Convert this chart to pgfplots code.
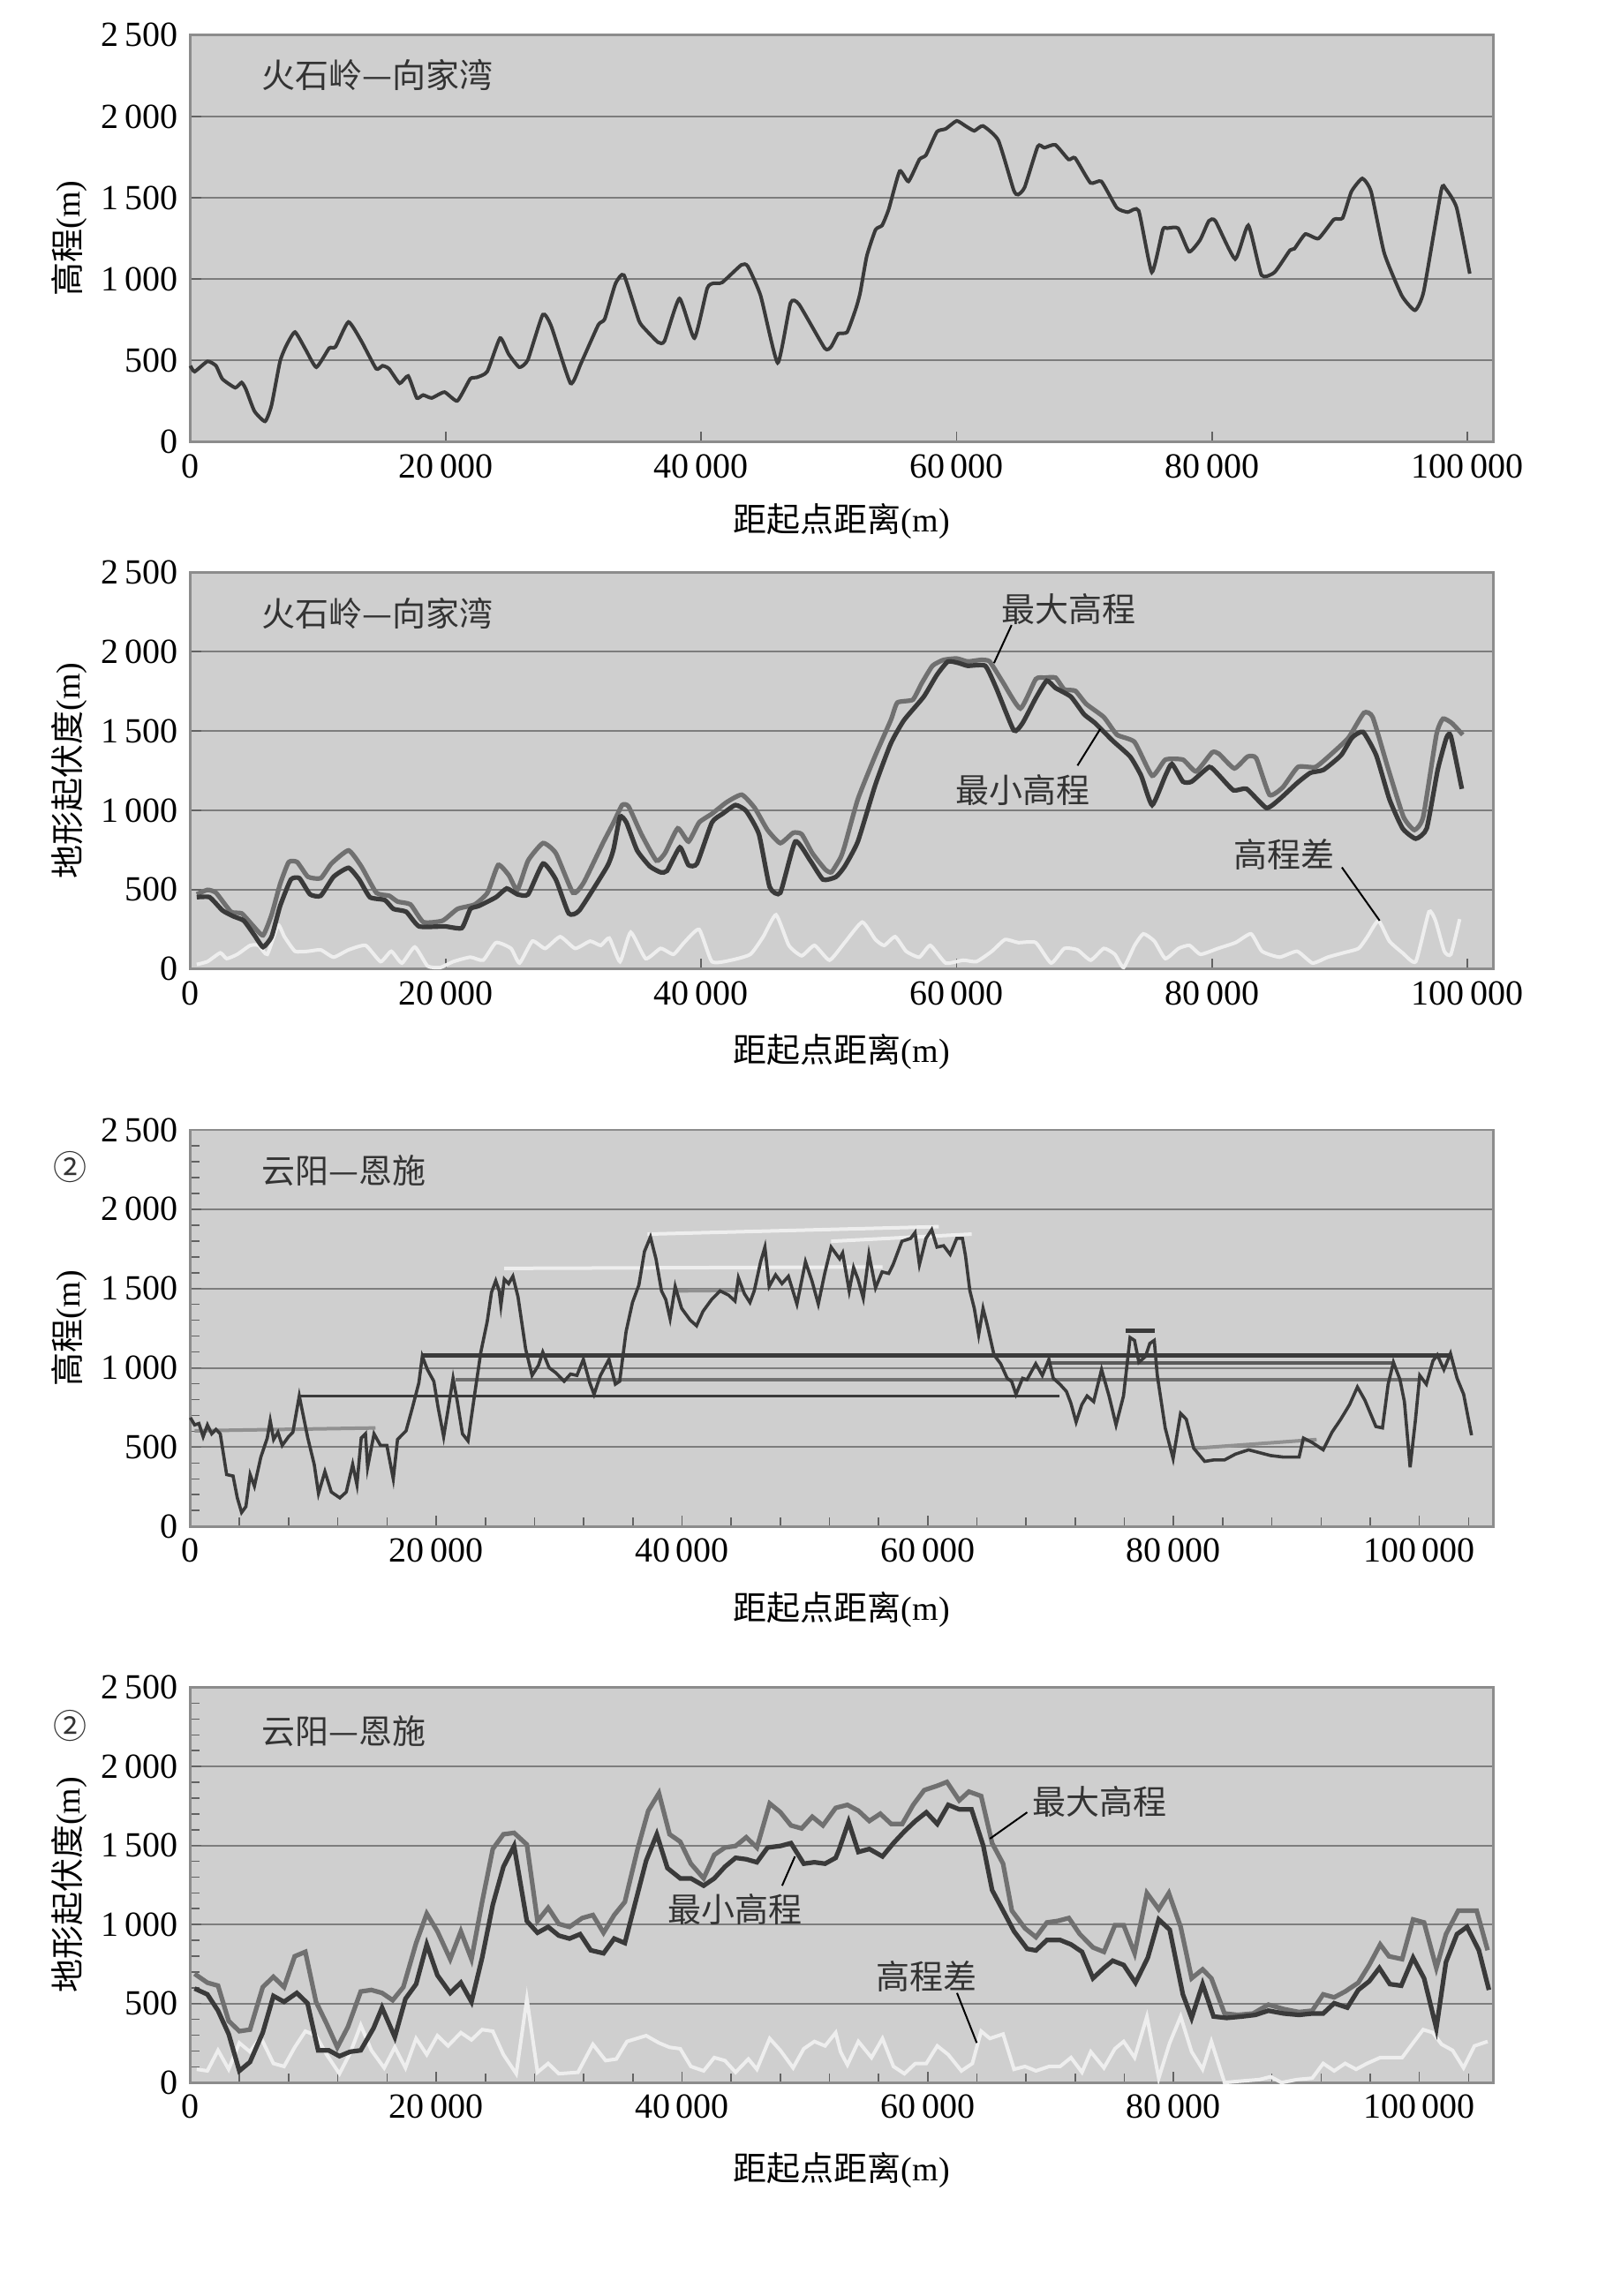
\documentclass[border=0pt]{standalone}
\usepackage{fontspec}
\setmainfont{Liberation Serif}
\newfontfamily\cjk{Noto Sans CJK SC}
\usepackage{pgfplots}
\pgfplotsset{compat=1.18}

\definecolor{bggray}{RGB}{207,207,207}
\definecolor{gridgray}{RGB}{125,125,125}
\definecolor{framegray}{RGB}{140,140,140}
\definecolor{cdark}{RGB}{58,58,58}
\definecolor{cmid}{RGB}{112,112,112}
\definecolor{cgray}{RGB}{145,145,145}
\definecolor{clight}{RGB}{238,238,238}

\tikzset{lbl/.style={font=\fontsize{9.5}{11}\selectfont\cjk, text=black!80}}

\pgfplotsset{
  panel/.style={
    scale only axis, width=368.9pt, anchor=north west,
    xmin=0, ymin=0, ymax=2500,
    ytick={0,500,...,2500},
    xtick={0,20000,...,100000},
    scaled ticks=false,
    axis background/.style={fill=bggray},
    ymajorgrids, major grid style={gridgray, line width=0.5pt},
    axis line style={framegray, line width=0.7pt},
    tick align=inside, tick pos=left,
    major tick length=3pt, minor tick length=2.5pt,
    tick style={framegray!70!black, line width=0.4pt},
    ylabel style={at={(axis description cs:-0.093,0.5)}, anchor=center, font=\fontsize{9.5}{11}\selectfont},
    xlabel style={anchor=center, font=\fontsize{9.5}{11}\selectfont},
    xlabel={{\cjk 距起点距离}(m)},
    ticklabel style={font=\fontsize{10}{12}\selectfont},
    /pgf/number format/fixed,
    /pgf/number format/precision=0,
    /pgf/number format/1000 sep={\,},
    /pgf/number format/assume math mode=true,
    clip=false,
  },
  wide/.style={
    xmax=106000,
    minor xtick={0,4000,...,104000},
    minor ytick={0,100,...,2500},
  },
}

\begin{document}
\begin{tikzpicture}
\path[fill=white] (0,0) rectangle (452.25pt,-650.25pt);
\useasboundingbox (0,0) rectangle (452.25pt,-650.25pt);

% ---------- panel 1 ----------
\begin{axis}[panel, at={(53.9pt,-9.95pt)}, height=115.2pt, xmax=102000,
  xlabel style={at={(axis description cs:0.5,-0.194)}},
  ylabel={{\cjk 高程}(m)}]
\addplot[cdark, line width=1pt, smooth, tension=0.3] coordinates {
(0,468) (334,432) (1338,495) (2007,468) (2508,387) (3512,333) (4013,365) (4348,324)
(5017,189) (5853,126) (6355,225) (7023,495) (7525,594) (8194,675) (9030,567) (9866,459)
(10870,576) (11371,585) (12375,737) (13378,621) (14548,450) (15050,468) (15552,450)
(16388,360) (17057,405) (17726,270) (18227,288) (18896,270) (19900,306) (20903,252)
(21906,387) (22408,396) (23244,432) (24247,638) (24916,540) (25753,459) (26421,504)
(27592,782) (28261,710) (29766,360) (30602,486) (31940,719) (32441,755) (33278,971)
(33946,1025) (35117,746) (35619,692) (36622,612) (37124,620) (38294,881) (39465,638)
(40468,944) (40970,975) (41639,980) (43144,1088) (43645,1079) (44649,899) (45987,486)
(46990,854) (47659,845) (49666,576) (50167,585) (50730,665) (51416,674) (52103,818)
(52446,917) (52961,1142) (53648,1304) (54163,1331) (54678,1430) (55536,1664) (56223,1601)
(57082,1736) (57597,1763) (58455,1906) (59142,1924) (60000,1973) (60687,1942) (61373,1912)
(62060,1942) (63262,1853) (64464,1547) (64807,1520) (65322,1565) (66352,1817) (66867,1808)
(67725,1826) (68755,1736) (69270,1745) (70472,1592) (71330,1601) (72532,1439) (73391,1412)
(74249,1421) (75279,1043) (76137,1304) (76481,1313) (77339,1313) (78197,1169) (79056,1241)
(79742,1358) (80258,1358) (81803,1124) (82833,1331) (83863,1025) (84893,1043) (86094,1178)
(86438,1187) (87296,1277) (88326,1250) (89528,1367) (90215,1376) (90901,1538) (91760,1619)
(92446,1538) (93476,1160) (94850,899) (95880,809) (96567,926) (97940,1547) (98283,1556)
(99142,1439) (100172,1034)
};
\node[lbl, anchor=west] at (rel axis cs:0.045,0.903) {火石岭—向家湾};
\end{axis}

% ---------- panel 2 ----------
\begin{axis}[panel, at={(53.9pt,-162.1pt)}, height=112.3pt, xmax=102000,
  xlabel style={at={(axis description cs:0.5,-0.21)}},
  ylabel={{\cjk 地形起伏度}(m)}]
\addplot[clight, line width=1pt, smooth, tension=0.3] coordinates {
(502,28) (1339,46) (2343,101) (2845,65) (3682,92) (4686,148) (5356,148) (6025,92)
(6862,277) (7364,203) (8201,111) (9205,111) (10209,120) (11213,74) (12385,120) (13724,148)
(14895,46) (15732,111) (16569,37) (17573,138) (18577,18) (19581,9) (20586,46) (21925,74)
(22929,55) (23933,166) (25105,129) (25774,37) (26778,175) (27782,129) (28954,203)
(30126,129) (31297,175) (32134,148) (32803,194) (33640,46) (34477,231) (35649,65)
(36820,129) (37824,92) (38661,166) (39833,249) (40837,46) (42343,55) (43849,92)
(44854,203) (45858,341) (46862,148) (47866,83) (48870,148) (50042,55) (51230,166)
(52605,295) (53637,185) (54325,148) (55185,203) (56045,111) (57077,74) (57936,148)
(59140,37) (60516,55) (61548,46) (62752,111) (63784,185) (64815,166) (66191,166)
(67395,37) (68427,129) (69458,120) (70490,55) (71522,129) (72382,92) (73070,9)
(73929,148) (74617,221) (75477,175) (76337,65) (77369,129) (78229,148) (79089,92)
(80464,129) (81840,166) (83044,221) (83904,111) (85279,74) (86655,111) (87859,37)
(89062,74) (90266,101) (91470,129) (92158,203) (93017,304) (93878,175) (94910,101)
(95942,46) (96974,360) (97490,304) (98178,111) (98693,92) (99381,314)
};
\addplot[cmid, line width=1.3pt, smooth, tension=0.3] coordinates {
(502,470) (1339,498) (2008,480) (3180,360) (4017,350) (4854,277) (5690,212) (6360,341)
(7029,535) (7699,673) (8368,673) (9205,581) (10209,572) (11046,664) (12385,747)
(13389,646) (14561,480) (15565,461) (16234,424) (17238,406) (18243,295) (19749,304)
(20920,378) (22259,406) (23263,480) (24100,655) (24937,590) (25607,498) (26444,683)
(27615,793) (28619,729) (29958,480) (30795,544) (32301,793) (33138,923) (33808,1033)
(34310,1024) (35314,849) (36485,683) (37155,729) (38159,886) (39000,803) (39833,923)
(40837,978) (42008,1052) (43180,1098) (44184,1015) (45188,876) (46192,793) (47197,858)
(47866,849) (48703,729) (49707,627) (50200,610) (50900,700) (51230,775) (52261,1070)
(53637,1347) (54841,1568) (55357,1679) (56561,1697) (57249,1799) (58108,1911)
(58968,1948) (60000,1957) (60860,1938) (61892,1948) (62580,1938) (63611,1808)
(64987,1642) (66191,1827) (66879,1836) (67739,1836) (68427,1762) (69287,1753)
(70146,1670) (71522,1587) (72554,1476) (73929,1430) (75305,1218) (76337,1319)
(77713,1319) (78745,1245) (80000,1365) (80533,1356) (81737,1264) (82769,1338)
(83457,1328) (84489,1098) (85520,1144) (86724,1273) (88100,1273) (89475,1365)
(90679,1458) (91883,1614) (92571,1587) (93775,1264) (94979,959) (95839,876) (96527,959)
(97559,1476) (98074,1577) (98762,1550) (99622,1476)
};
\addplot[cdark, line width=1.3pt, smooth, tension=0.3] coordinates {
(502,452) (1506,452) (2510,369) (3347,332) (4184,304) (5021,212) (5690,138) (6360,203)
(7029,397) (7866,563) (8536,572) (9372,470) (10209,461) (11213,581) (12385,637)
(13222,563) (14059,452) (15230,434) (15900,378) (16904,360) (17908,268) (19916,268)
(21255,258) (21925,378) (22594,397) (23933,452) (24770,507) (25607,470) (26444,470)
(27615,664) (28619,563) (29623,350) (30460,369) (32636,646) (33138,756) (33640,959)
(34142,923) (34979,747) (35983,646) (36820,609) (37322,618) (38326,766) (38996,655)
(39665,664) (40837,923) (41674,978) (42678,1033) (43515,996) (44519,849) (45356,517)
(46192,480) (47364,803) (48536,683) (49540,563) (50544,580) (51230,646) (52261,803)
(53637,1162) (54841,1421) (55873,1568) (57420,1716) (58452,1854) (59312,1938)
(60172,1928) (60860,1911) (62236,1911) (63095,1771) (64471,1504) (65159,1550)
(66191,1707) (67051,1817) (67739,1771) (68943,1716) (69974,1605) (70834,1550)
(72209,1439) (73585,1338) (74445,1218) (75305,1033) (76337,1218) (76853,1292)
(77713,1181) (78401,1181) (79777,1273) (80464,1227) (81668,1126) (82700,1135)
(84247,1015) (85279,1070) (86655,1172) (87687,1236) (88719,1255) (90095,1347)
(90954,1458) (91814,1494) (92846,1347) (93878,1070) (94910,886) (95942,821) (96802,886)
(97662,1255) (98350,1458) (98693,1467) (99551,1135)
};
\node[lbl, anchor=west] at (rel axis cs:0.045,0.897) {火石岭—向家湾};
\node[lbl] at (axis cs:68770,2270) {最大高程};
\draw[black, line width=0.5pt] (axis cs:64299,2168) -- (axis cs:62923,1928);
\node[lbl] at (axis cs:65159,1125) {最小高程};
\draw[black, line width=0.5pt] (axis cs:69458,1282) -- (axis cs:71246,1513);
\node[lbl] at (axis cs:85620,720) {高程差};
\draw[black, line width=0.5pt] (axis cs:90160,640) -- (axis cs:93117,304);
\end{axis}

% ---------- panel 3 ----------
\begin{axis}[panel, wide, at={(53.9pt,-320pt)}, height=112.3pt,
  xlabel style={at={(axis description cs:0.5,-0.21)}},
  ylabel={{\cjk 高程}(m)}]
% reference levels
\addplot[cgray, line width=1pt] coordinates {(348,603) (15061,621)};
\addplot[cdark, line width=0.9pt] coordinates {(8967,823) (70748,823)};
\addplot[cmid, line width=0.9pt] coordinates {(21550,925) (100031,925)};
\addplot[cmid!80!black, line width=0.9pt] coordinates {(69677,1030) (98040,1030)};
\addplot[cdark, line width=1.3pt] coordinates {(18873,1080) (102531,1080)};
\addplot[clight, line width=1pt] coordinates {(25547,1627) (56322,1636)};
\addplot[clight, line width=1pt] coordinates {(37190,1843) (60893,1890)};
\addplot[clight, line width=1pt] coordinates {(52137,1798) (63571,1843)};
\addplot[cgray, line width=1pt] coordinates {(39450,1485) (44873,1489)};
\addplot[cgray, line width=1pt] coordinates {(81819,493) (91639,548)};
\addplot[cdark, line width=1.2pt] coordinates {(76105,1232) (78498,1232)};
% elevation profile
\addplot[cdark, line width=0.9pt] coordinates {
(0,686) (348,640) (696,649) (1042,566) (1390,640) (1738,584) (2086,612) (2433,584)
(2954,327) (3476,318) (3823,180) (4171,88) (4519,125) (4866,327) (5213,254) (5735,437)
(6257,557) (6500,667) (6778,548) (7126,594) (7473,511) (7994,566) (8342,594) (8863,823)
(9558,557) (10079,391) (10427,208) (10948,346) (11470,217) (12165,180) (12686,217)
(13208,391) (13556,263) (13903,557) (14250,584) (14424,373) (14946,584) (15467,511)
(15989,511) (16510,300) (16858,548) (17552,603) (18073,750) (18595,906) (18873,1072)
(19290,989) (19811,915) (20159,750) (20611,566) (20958,731) (21376,934) (21723,787)
(22141,584) (22592,539) (23113,823) (23635,1099) (24156,1292) (24503,1476) (24851,1549)
(25129,1485) (25269,1393) (25547,1559) (25895,1531) (26243,1577) (26660,1448)
(27285,1117) (27806,952) (28327,1016) (28675,1099) (29196,1000) (29718,970) (30413,915)
(30935,961) (31456,952) (31977,1053) (32498,906) (32846,833) (33367,952) (34062,1053)
(34583,897) (34931,915) (35452,1228) (35974,1412) (36496,1522) (36947,1733) (37434,1825)
(37886,1687) (38337,1485) (38685,1430) (39033,1310) (39450,1513) (39971,1375)
(40667,1301) (41188,1265) (41709,1356) (42405,1430) (43100,1485) (43795,1458)
(44316,1421) (44594,1568) (45081,1467) (45532,1412) (45880,1485) (46401,1669)
(46749,1761) (47097,1513) (47618,1586) (48139,1531) (48661,1577) (49356,1402)
(50051,1669) (50573,1549) (51094,1402) (51615,1595) (52137,1761) (52831,1687)
(53072,1724) (53608,1485) (53965,1632) (54322,1559) (54751,1439) (55215,1715)
(55750,1504) (56286,1605) (56822,1595) (57179,1651) (57893,1798) (58607,1816)
(58964,1853) (59322,1651) (59857,1816) (60321,1871) (60750,1761) (61286,1770)
(61821,1715) (62357,1816) (62821,1816) (63071,1706) (63428,1485) (63785,1375)
(64142,1209) (64499,1375) (64856,1265) (65392,1081) (65928,1026) (66463,934) (66820,915)
(67178,833) (67713,934) (68070,925) (68784,1026) (69320,952) (69855,1053) (70212,934)
(70748,897) (71284,851) (71641,778) (72070,658) (72534,768) (72963,823) (73498,787)
(74141,989) (74748,823) (75320,640) (75927,823) (76463,1191) (76820,1173) (77177,1035)
(77713,1072) (78070,1154) (78427,1173) (78676,952) (79319,621) (79962,428) (80569,713)
(81033,676) (81640,493) (82533,410) (83247,419) (84140,419) (85033,456) (86104,483)
(86997,465) (87890,447) (88961,437) (90211,437) (90568,557) (91282,529) (92175,483)
(92889,594) (93603,676) (94318,768) (94960,879) (95567,796) (96460,630) (96996,621)
(97460,897) (97889,1035) (98424,925) (98781,787) (99246,373) (99674,667) (100031,952)
(100567,897) (101103,1044) (101460,1081) (101995,989) (102531,1090) (103067,934)
(103602,833) (104245,575)
};
\node[lbl, anchor=west] at (rel axis cs:0.045,0.897) {云阳—恩施};
\node[lbl] at (rel axis cs:-0.092,0.907) {②};
\end{axis}

% ---------- panel 4 ----------
\begin{axis}[panel, wide, at={(53.9pt,-477.9pt)}, height=111.9pt,
  xlabel style={at={(axis description cs:0.5,-0.222)}},
  ylabel={{\cjk 地形起伏度}(m)}]
\addplot[clight, line width=1pt] coordinates {
(520,84) (1386,74) (2253,204) (3119,84) (3986,251) (4852,195) (5719,288) (6759,121)
(7625,102) (8492,223) (9358,325) (10225,297) (11091,177) (12131,56) (12998,186)
(13864,363) (14731,204) (15770,93) (16637,223) (17503,93) (18370,279) (19236,177)
(20103,297) (20969,232) (22009,316) (22875,270) (23742,335) (24608,325) (25475,177)
(26515,56) (27381,530) (28247,65) (29114,121) (29980,56) (31540,65) (32753,242)
(33793,139) (34659,149) (35526,260) (37086,297) (38126,251) (38992,223) (39859,214)
(40725,102) (41765,74) (42631,158) (43498,139) (44364,65) (45404,149) (46097,84)
(47137,279) (48004,204) (49044,93) (49910,214) (50777,260) (51643,232) (52510,316)
(52900,195) (53461,112) (54353,260) (55424,158) (56315,279) (57207,102) (58099,56)
(58991,121) (59883,121) (60775,232) (61667,177) (62737,74) (63630,121) (64343,325)
(65057,279) (66127,307) (67019,84) (67911,102) (68803,74) (69873,102) (70765,102)
(71657,158) (72549,65) (73263,195) (74334,93) (75226,214) (75939,260) (76831,158)
(77830,418) (78793,28) (79686,251) (80577,418) (81469,195) (82361,84) (83075,260)
(84145,0) (85395,9) (86999,19) (87892,37) (88784,0) (90033,19) (91282,28) (92174,121)
(93066,74) (93958,121) (94850,84) (95742,121) (96812,158) (97705,158) (98596,158)
(99488,251) (100309,335) (101094,316) (101807,242) (102700,204) (103592,93)
(104484,232) (105553,260)
};
\addplot[cmid, line width=1.3pt] coordinates {
(347,688) (1386,632) (2253,613) (3119,390) (3986,325) (4852,335) (5892,604) (6759,669)
(7625,604) (8492,799) (9358,827) (10225,511) (11091,372) (11958,223) (12824,353)
(13864,576) (14731,586) (15597,567) (16464,521) (17330,604) (18370,883) (19236,1069)
(20103,957) (21142,781) (22009,957) (22875,781) (23742,1143) (24608,1478) (25475,1571)
(26341,1580) (27381,1506) (28247,1022) (29114,1106) (29980,1004) (30847,985)
(31887,1041) (32753,1060) (33620,948) (34486,1060) (35353,1143) (36393,1478)
(37259,1720) (38126,1831) (38992,1571) (39859,1524) (40725,1385) (41765,1292)
(42631,1441) (43498,1487) (44364,1497) (45231,1552) (46097,1487) (47137,1766)
(48004,1711) (48870,1627) (49737,1608) (50603,1682) (51470,1627) (52510,1738)
(53461,1757) (54353,1720) (55245,1655) (56137,1701) (57029,1636) (57921,1636)
(58813,1757) (59705,1850) (60775,1878) (61560,1902) (62559,1785) (63344,1841)
(64343,1813) (65235,1515) (66127,1385) (66841,1088) (67911,976) (68803,920) (69695,1013)
(70587,1023) (71479,1041) (72371,939) (73442,855) (74334,827) (75226,995) (75939,995)
(76831,818) (77830,1199) (78793,1097) (79614,1199) (80577,985) (81469,660) (82361,716)
(83075,660) (84145,437) (85216,428) (86465,437) (87714,493) (88962,465) (90211,446)
(91282,455) (92174,558) (93066,539) (93958,576) (95028,632) (95920,744) (96812,874)
(97526,799) (98596,781) (99488,1032) (100380,1013) (101379,725) (102164,939)
(103163,1088) (104661,1088) (105553,837)
};
\addplot[cdark, line width=1.3pt] coordinates {
(347,595) (1386,558) (2253,455) (3119,307) (3986,74) (4852,130) (5892,316) (6759,548)
(7625,511) (8665,567) (9531,502) (10398,204) (11264,204) (12131,167) (12998,195)
(13864,204) (14904,344) (15597,474) (16637,288) (17503,530) (18370,623) (19236,874)
(20103,679) (21142,567) (22009,632) (22875,511) (23742,790) (24608,1125) (25475,1366)
(26341,1497) (27381,1022) (28247,948) (29114,985) (29980,930) (30847,911) (31713,939)
(32580,837) (33620,818) (34486,911) (35353,883) (36219,1143) (37086,1404) (37952,1571)
(38819,1357) (39859,1292) (40725,1292) (41765,1246) (42631,1292) (43498,1366)
(44364,1422) (45231,1413) (46097,1394) (46964,1487) (48004,1497) (48870,1515)
(49910,1385) (50777,1394) (51643,1385) (52510,1422) (52800,1478) (53560,1650)
(54353,1459) (55245,1478) (56315,1431) (57207,1515) (58099,1589) (58991,1655)
(59883,1710) (60775,1636) (61667,1757) (62559,1729) (63558,1729) (64521,1497)
(65235,1218) (66127,1088) (67019,957) (68089,846) (68803,836) (69695,902) (70765,902)
(71657,874) (72549,827) (73442,660) (74334,725) (75047,771) (75939,744) (76903,632)
(77902,790) (78793,1032) (79686,967) (80756,558) (81469,409) (82361,623) (83253,418)
(84324,409) (85573,418) (86643,428) (87714,455) (88962,437) (90211,428) (91282,437)
(92174,437) (93066,502) (94136,474) (95028,586) (95920,641) (96741,725) (97598,623)
(98525,613) (99488,790) (100380,660) (101379,344) (102164,762) (103056,939)
(103877,985) (104840,837) (105660,586)
};
\node[lbl, anchor=west] at (rel axis cs:0.045,0.889) {云阳—恩施};
\node[lbl] at (rel axis cs:-0.092,0.903) {②};
\node[lbl] at (axis cs:73977,1775) {最大高程};
\draw[black, line width=0.5pt] (axis cs:68090,1710) -- (axis cs:65057,1543);
\node[lbl] at (axis cs:44326,1097) {最小高程};
\draw[black, line width=0.5pt] (axis cs:48150,1246) -- (axis cs:49193,1431);
\node[lbl] at (axis cs:59883,669) {高程差};
\draw[black, line width=0.5pt] (axis cs:62381,567) -- (axis cs:63986,251);
\end{axis}
\end{tikzpicture}
\end{document}
